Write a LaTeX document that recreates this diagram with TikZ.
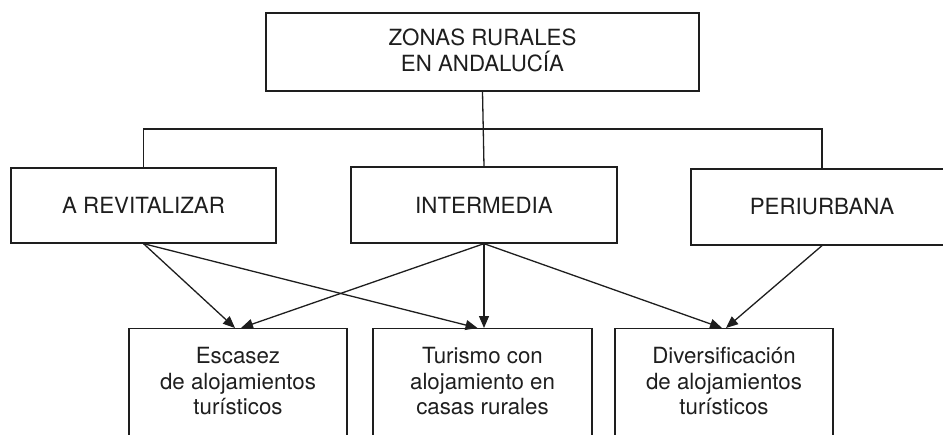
\documentclass[tikz,border=0pt]{standalone}
\usepackage{fontspec}
\setmainfont{TeX Gyre Heros}
\usetikzlibrary{arrows.meta}
\definecolor{ink}{HTML}{1E1E1E}
\begin{document}
\begin{tikzpicture}[x=1pt,y=-1pt,
  box/.style={draw=ink, line width=1.3pt, align=center, text=ink,
    font=\fontsize{22.3}{25.5}\selectfont, inner sep=0pt},
  lowbox/.style={box, anchor=north, minimum width=218pt, inner ysep=19pt},
  link/.style={draw=ink, line width=1.3pt},
  arr/.style={link, -{Triangle[length=12pt,width=10pt]}}]
\useasboundingbox (0,0) rectangle (943,434);
\clip (0,0) rectangle (943,434);
\node[box, minimum width=433pt, minimum height=78pt] (top) at (482.5,52)
  {ZONAS RURALES\\EN ANDALUCÍA\rule[-4pt]{0pt}{4pt}};
\node[box, minimum width=265pt, minimum height=75pt] (ar) at (143.5,205.5) {A REVITALIZAR};
\node[box, minimum width=266pt, minimum height=76pt] (in) at (484,205) {INTERMEDIA};
\node[box, minimum width=262pt, minimum height=76pt] (pe) at (822,207) {PERIURBANA};
\node[lowbox] (esc) at (238,328) {Escasez\\de alojamientos\\turísticos\rule[-30pt]{0pt}{30pt}};
\node[lowbox, minimum width=219pt] (tur) at (482.5,328) {Turismo con\\alojamiento en\\casas rurales\rule[-30pt]{0pt}{30pt}};
\node[lowbox] (div) at (724,328) {Diversificación\\de alojamientos\\turísticos\rule[-30pt]{0pt}{30pt}};
\coordinate (hub) at (482.5,129);
\draw[link] (top.south) -- (in.north);
\draw[link] (ar.north) |- (hub) -| (pe.north);
\draw[arr] (ar.south) -- ([xshift=-3pt]esc.north);
\draw[arr] (ar.south) -- ([xshift=-5pt]tur.north);
\draw[arr] (in.south) -- ([xshift=3pt]esc.north);
\draw[arr] (in.south) -- (in.south |- tur.north);
\draw[arr] (in.south) -- ([xshift=-2pt]div.north);
\draw[arr] (pe.south) -- ([xshift=2pt]div.north);
\end{tikzpicture}
\end{document}
